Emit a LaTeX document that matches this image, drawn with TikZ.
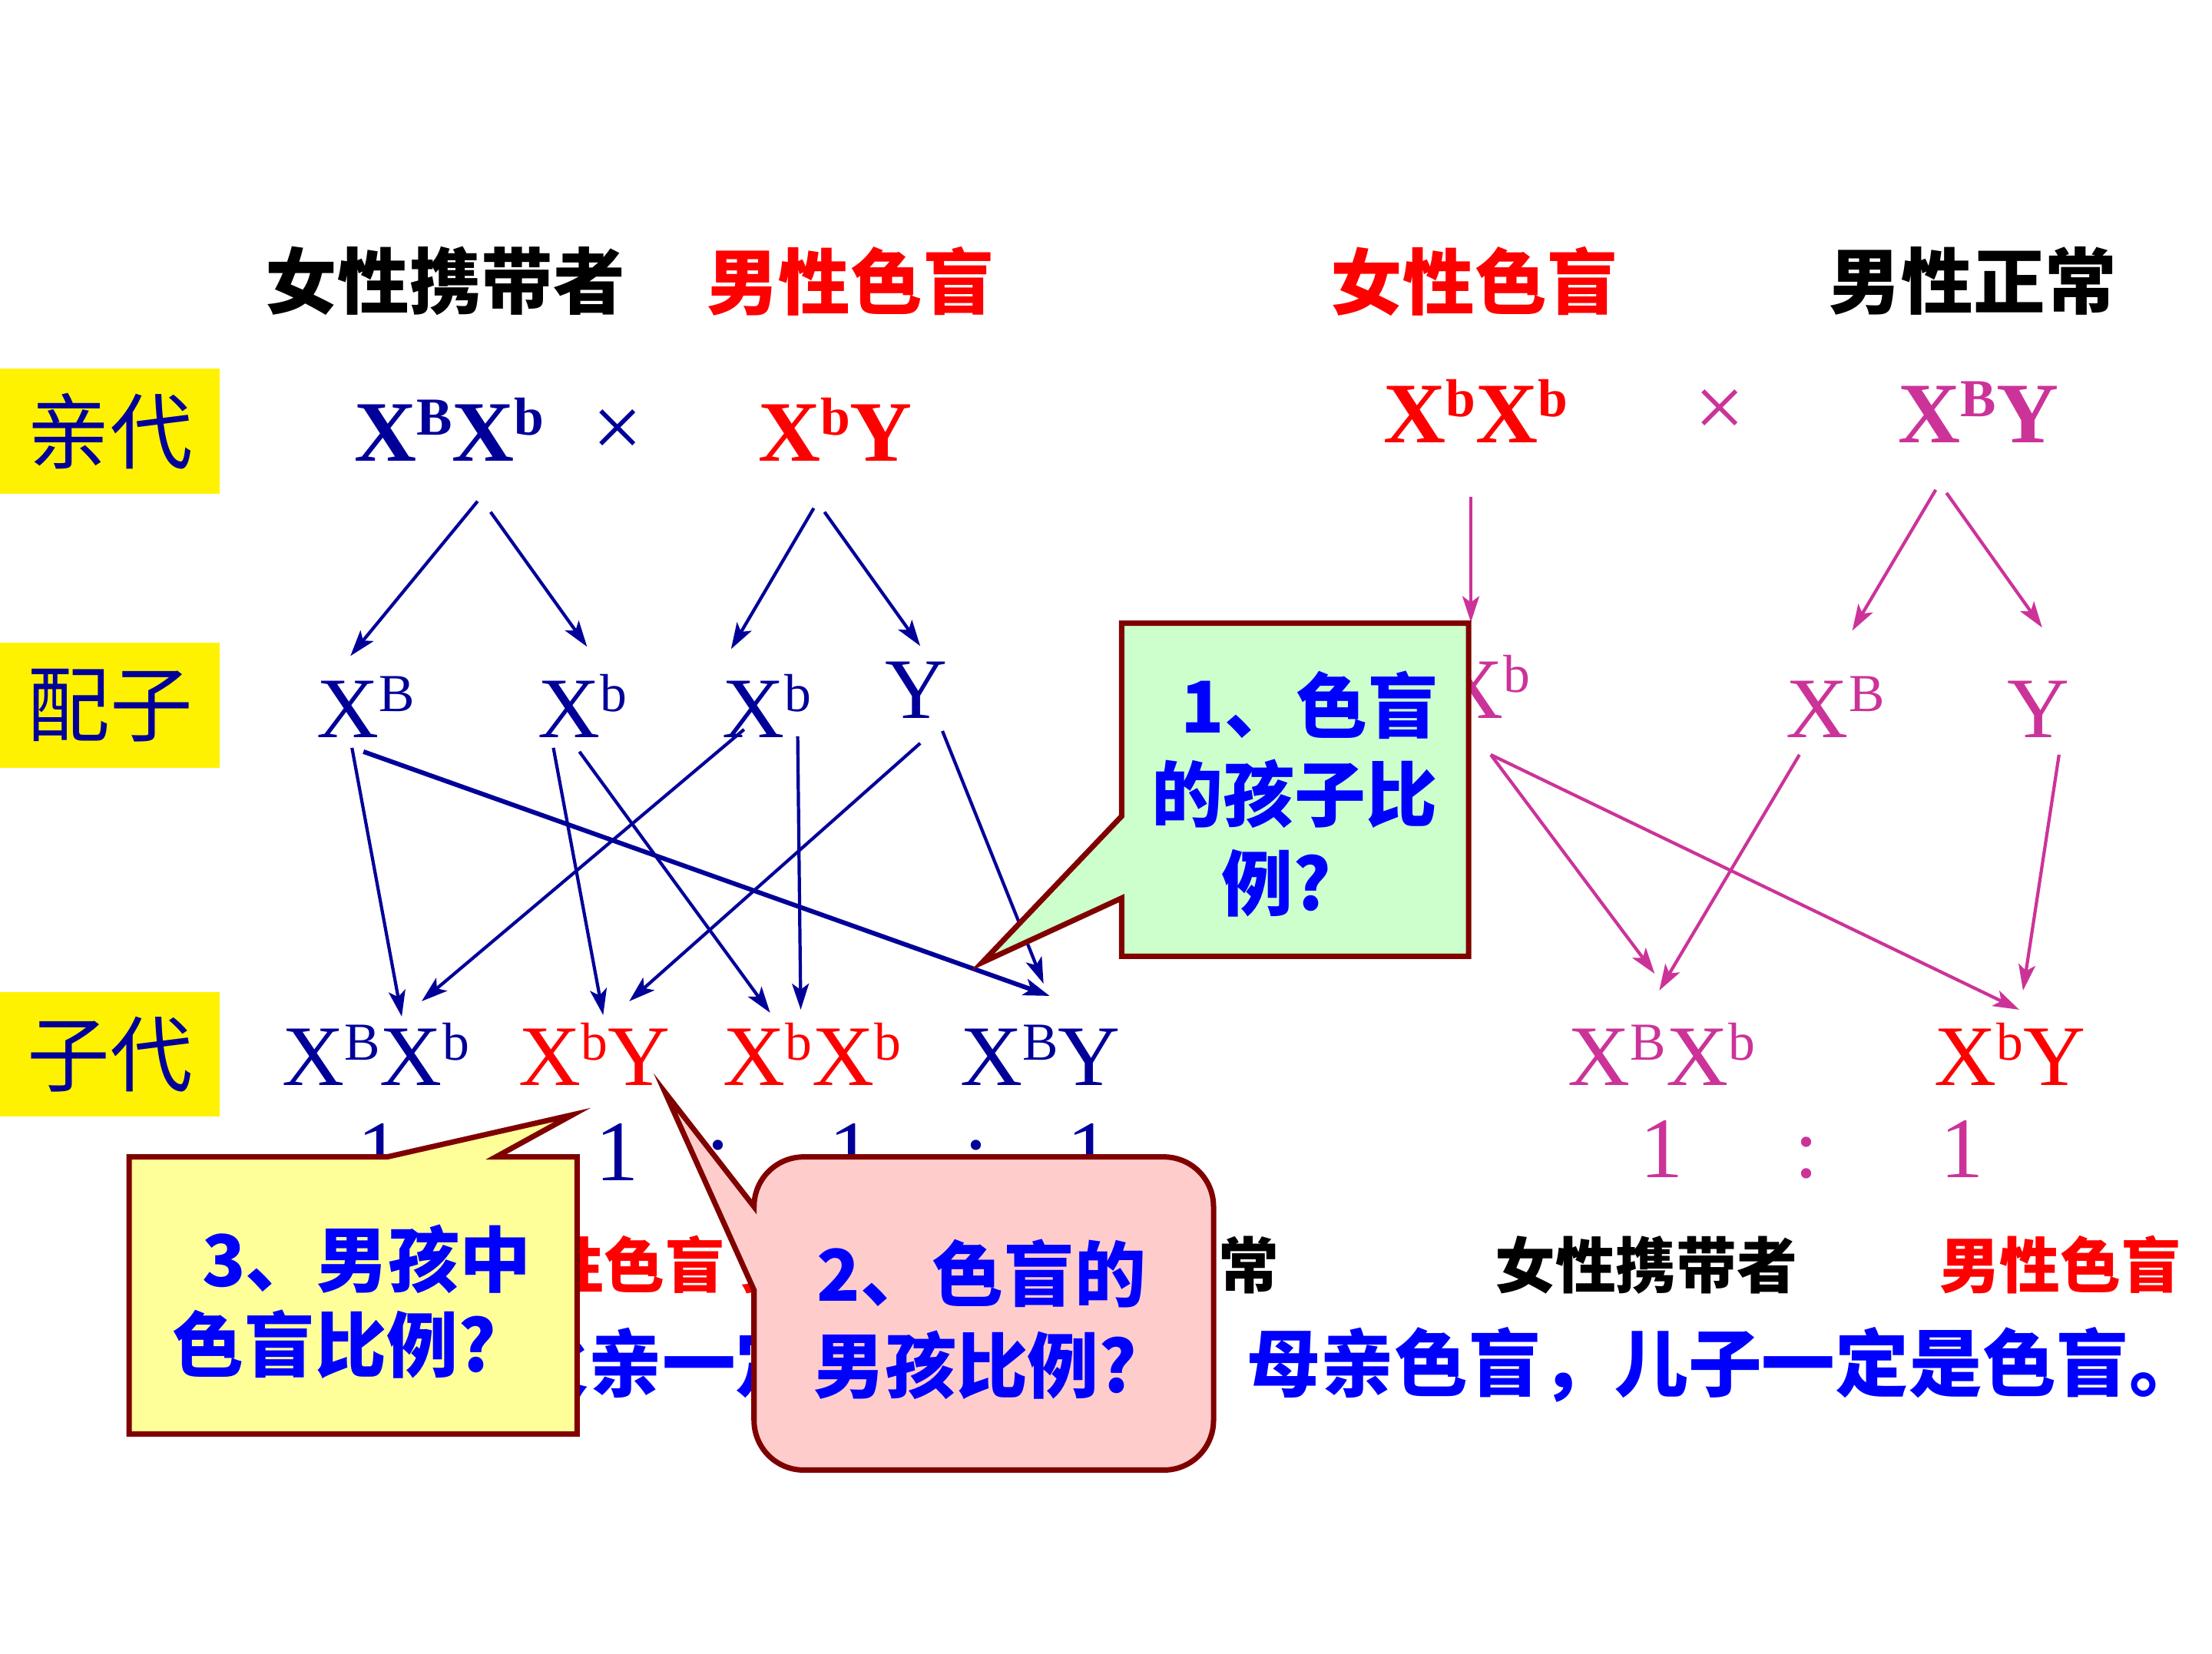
\documentclass[tikz,border=0pt]{standalone}
\usepackage{fontspec}
\setmainfont{Liberation Serif}
\newfontfamily\cjk{Noto Sans CJK SC}
\usepackage{xcolor}
\usepackage{tikz}
\usetikzlibrary{arrows.meta,calc}

\definecolor{navy}{RGB}{0,0,153}
\definecolor{magen}{RGB}{204,51,153}
\definecolor{border}{RGB}{128,0,0}
\definecolor{greenfill}{RGB}{204,255,204}
\definecolor{pinkfill}{RGB}{255,204,204}
\definecolor{notefill}{RGB}{255,255,153}

\newcommand\allele[1]{\raisebox{0.3em}{\scalebox{0.62}{#1}}}

\begin{document}
\begin{tikzpicture}[
    x=0.01cm, y=-0.01cm,
    gene/.style={inner sep=0pt, anchor=base, font=\fontsize{32}{38}\selectfont},
    geneb/.style={gene, font=\fontsize{32}{38}\selectfont\bfseries},
    crossmark/.style={inner sep=0pt, font=\fontsize{33}{38}\selectfont},
    phead/.style={font=\cjk\bfseries\fontsize{26.7}{32}\selectfont},
    genlab/.style={fill=yellow, text=navy, inner sep=0pt, minimum width=2.87cm, minimum height=1.63cm, font=\cjk\fontsize{30.7}{34}\selectfont},
    pheno/.style={font=\cjk\bfseries\fontsize{22.5}{26}\selectfont},
    maxim/.style={text=blue, font=\cjk\bfseries\fontsize{27.3}{32}\selectfont},
    note/.style={text=blue, align=center, font=\cjk\bfseries\fontsize{26.5}{33}\selectfont},
    bubble/.style={draw=border, line width=2pt},
    arr/.style={-{Stealth[length=3.4mm,width=2.2mm,inset=0.8mm]}, line width=1.2pt},
]
    \fill[white] (0,0) rectangle (2880,2160);

    \node[phead] (h1) at (581,367) {女性携带者};
    \node[phead, text=red] (h2) at (1110,367) {男性色盲};
    \node[phead, text=red] (h3) at (1925,367) {女性色盲};
    \node[phead] (h4) at (2576,367) {男性正常};

    \node[genlab] (L1) at (143,563) {亲代};
    \node[genlab] (L2) at (143,921) {配子};
    \node[genlab] (L3) at (143,1377) {子代};

    \node[geneb, navy] (P1) at (586,602) {X\allele{B}X\allele{b}};
    \node[crossmark, navy] (x1) at (806,566) {×};
    \node[geneb, red] (P2) at (1090,602) {X\allele{b}Y};
    \node[geneb, red] (P3) at (1926,578) {X\allele{b}X\allele{b}};
    \node[crossmark, magen] (x2) at (2245,540) {×};
    \node[geneb, magen] (P4) at (2583,578) {X\allele{B}Y};

    \node[gene, navy] (G1) at (477,963) {X\allele{B}};
    \node[gene, navy] (G2) at (760,963) {X\allele{b}};
    \node[gene, navy] (G3) at (1001,963) {X\allele{b}};
    \node[gene, navy] (G4) at (1196,938) {Y};
    \node[gene, magen] (G5) at (1939,938) {X\allele{b}};
    \node[gene, magen] (G6) at (2396,963) {X\allele{B}};
    \node[gene, magen] (G7) at (2661,963) {Y};

    \node[gene, navy] (O1) at (490,1418) {X\allele{B}X\allele{b}};
    \node[gene, red] (O2) at (776,1418) {X\allele{b}Y};
    \node[gene, red] (O3) at (1060,1418) {X\allele{b}X\allele{b}};
    \node[gene, navy] (O4) at (1358,1418) {X\allele{B}Y};
    \node[gene, magen] (O5) at (2169,1418) {X\allele{B}X\allele{b}};
    \node[gene, red] (O6) at (2624,1418) {X\allele{b}Y};

    \foreach \x/\s [count=\i] in {494/1,650/:,805/1,937/:,1110/1,1274/:,1421/1}
        \node[gene, navy] (r\i) at (\x,1542) {\s};
    \foreach \x/\s [count=\i] in {2169/1,2358/:,2561/1}
        \node[gene, magen] (s\i) at (\x,1538) {\s};

    \draw[arr, navy] ($(P1.south)+(37,52)$) -- ($(G1.south)+(-20,-107)$);
    \draw[arr, navy] ($(P1.south)+(54,66)$) -- ($(G2.south)+(6,-119)$);
    \draw[arr, navy] ($(P2.south)+(-28,61)$) -- ($(G3.south)+(-47,-116)$);
    \draw[arr, navy] ($(P2.south)+(-14,66)$) -- ($(G4.south)+(5,-95)$);
    \draw[arr, magen] ($(P3.south)+(-6,70)$) -- ($(G5.south)+(-19,-126)$);
    \draw[arr, magen] ($(P4.south)+(-56,61)$) -- ($(G6.south)+(22,-140)$);
    \draw[arr, magen] ($(P4.south)+(-42,65)$) -- ($(G7.south)+(5,-144)$);

    \draw[arr, navy] ($(G1.south)+(-18,13)$) -- ($(O1.south)+(34,-91)$);
    \draw[arr, navy, line width=1.7pt] ($(G1.south)+(-3,18)$) -- ($(O4.south)+(12,-118)$);
    \draw[arr, navy] ($(G2.south)+(-38,13)$) -- ($(O2.south)+(11,-93)$);
    \draw[arr, navy] ($(G2.south)+(-4,18)$) -- ($(O3.south)+(-55,-96)$);
    \draw[arr, navy] ($(G3.south)+(-30,-11)$) -- ($(O1.south)+(60,-111)$);
    \draw[arr, navy] ($(G3.south)+(40,-2)$) -- ($(O3.south)+(-15,-100)$);
    \draw[arr, navy] ($(G4.south)+(5,32)$) -- ($(O2.south)+(45,-111)$);
    \draw[arr, navy] ($(G4.south)+(34,16)$) -- ($(O4.south)+(4,-134)$);

    \draw[arr, magen] ($(G5.south)+(7,47)$) -- ($(O5.south)+(-9,-147)$);
    \draw[arr, magen] ($(G5.south)+(7,47)$) -- ($(O6.south)+(12,-100)$);
    \draw[arr, magen] ($(G6.south)+(-47,22)$) -- ($(O5.south)+(-3,-125)$);
    \draw[arr, magen] ($(G7.south)+(27,22)$) -- ($(O6.south)+(17,-125)$);

    \node[pheno] (f1) at (490,1652) {女性携带者};
    \node[pheno, text=red] (f2) at (788,1652) {男性色盲};
    \node[pheno, text=red] (f3) at (1124,1652) {女性色盲};
    \node[pheno] (f4) at (1511,1652) {男性正常};
    \node[pheno] (f5) at (2149,1652) {女性携带者};
    \node[pheno, text=red] (f6) at (2690,1652) {男性色盲};

    \node[maxim] (m1) at (816,1783) {女儿色盲，父亲一定是色盲。};
    \node[maxim] (m2) at (2252,1783) {母亲色盲，儿子一定是色盲。};

    \draw[bubble, fill=greenfill] (1464,814) -- (1917,814) -- (1917,1249) -- (1464,1249) -- (1464,1173) -- (1282,1257) -- (1464,1066) -- cycle;
    \node[note] (q1) at (1690,1037) {\rule{0.4cm}{0pt}1、色盲\\的孩子比\\例?\rule{0.48cm}{0pt}};

    \draw[bubble, fill=notefill] (168,1511) -- (505,1511) -- (747,1456) -- (647,1511) -- (753,1511) -- (753,1873) -- (168,1873) -- cycle;
    \node[note] (q3) at (457,1700) {\rule{0.42cm}{0pt}3、男孩中\\[-1.5pt]色盲比例?\rule{0.42cm}{0pt}};

    \draw[bubble, fill=pinkfill] (868,1427) -- (984,1576) .. controls (984,1540) and (1013,1511) .. (1049,1511) -- (1519,1511) .. controls (1555,1511) and (1584,1540) .. (1584,1576) -- (1584,1855) .. controls (1584,1891) and (1555,1920) .. (1519,1920) -- (1049,1920) .. controls (1013,1920) and (984,1891) .. (984,1855) -- (984,1685) -- cycle;
    \node[note] (q2) at (1273,1723) {\rule{0.16cm}{0pt}2、色盲的\\[1pt]男孩比例?};
\end{tikzpicture}
\end{document}
